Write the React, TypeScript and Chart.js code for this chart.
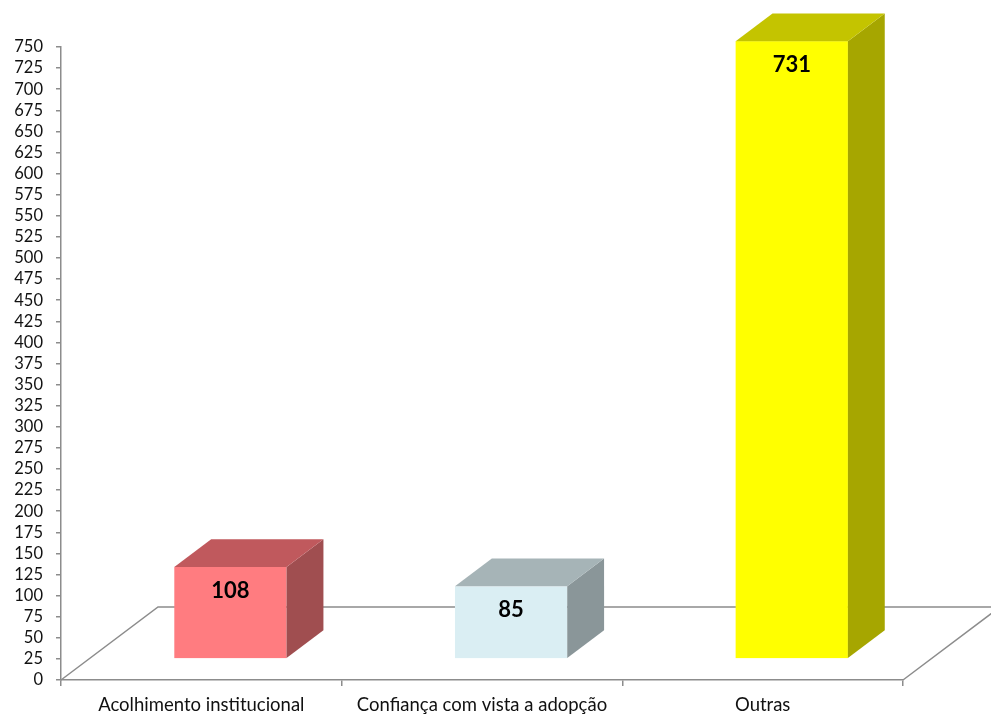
import React, { useEffect, useRef } from "react";
import { Chart, registerables } from "chart.js";

Chart.register(...registerables);

// ---- data ----
const categories = ["Acolhimento institucional", "Confiança com vista a adopção", "Outras"];
const values = [108, 85, 731];
const frontColors = ["#FF7C80", "#DAEEF3", "#FFFF00"];
const topColors = ["#C0595D", "#A6B4B7", "#C4C400"];
const sideColors = ["#A04E50", "#8A9699", "#A6A600"];
const yMin = 0;
const yMax = 750;
const yStep = 25;

// ---- styling / geometry ----
const AXIS_COLOR = "#8C8C8C";
const FONT = "Lato, 'Open Sans', sans-serif";
const FLOOR_DX = 97;
const FLOOR_DY = 73;
const BAR_FRONT = 0.3;
const BAR_DEPTH = 0.38;
const BAR_WIDTH_FRAC = 0.4;

const bars3d = {
  id: "bars3d",
  beforeDatasetsDraw(chart: any) {
    const { ctx, chartArea } = chart;
    const { left, right, bottom } = chartArea;
    ctx.save();
    ctx.strokeStyle = AXIS_COLOR;
    ctx.lineWidth = 1.5;
    ctx.beginPath();
    ctx.moveTo(left, bottom);
    ctx.lineTo(left + FLOOR_DX, bottom - FLOOR_DY);
    ctx.lineTo(right + FLOOR_DX, bottom - FLOOR_DY);
    ctx.lineTo(right, bottom);
    ctx.stroke();
    ctx.restore();
  },
  afterDatasetsDraw(chart: any) {
    const { ctx } = chart;
    const xs = chart.scales.x;
    const ys = chart.scales.y;
    const cat = (xs.right - xs.left) / categories.length;
    const ox = FLOOR_DX * BAR_FRONT;
    const oy = FLOOR_DY * BAR_FRONT;
    const dx = FLOOR_DX * BAR_DEPTH;
    const dy = FLOOR_DY * BAR_DEPTH;
    ctx.save();
    values.forEach((v, i) => {
      const cx = xs.getPixelForValue(i);
      const hw = (cat * BAR_WIDTH_FRAC) / 2;
      const x0 = cx - hw + ox;
      const x1 = cx + hw + ox;
      const yb = ys.getPixelForValue(0) - oy;
      const yt = ys.getPixelForValue(v) - oy;
      // front
      ctx.fillStyle = frontColors[i];
      ctx.fillRect(x0, yt, x1 - x0, yb - yt);
      // side
      ctx.fillStyle = sideColors[i];
      ctx.beginPath();
      ctx.moveTo(x1, yt);
      ctx.lineTo(x1 + dx, yt - dy);
      ctx.lineTo(x1 + dx, yb - dy);
      ctx.lineTo(x1, yb);
      ctx.closePath();
      ctx.fill();
      // top
      ctx.fillStyle = topColors[i];
      ctx.beginPath();
      ctx.moveTo(x0, yt);
      ctx.lineTo(x0 + dx, yt - dy);
      ctx.lineTo(x1 + dx, yt - dy);
      ctx.lineTo(x1, yt);
      ctx.closePath();
      ctx.fill();
      // label
      ctx.fillStyle = "#000000";
      ctx.font = `bold 22px ${FONT}`;
      ctx.textAlign = "center";
      ctx.textBaseline = "middle";
      ctx.fillText(String(v), (x0 + x1) / 2, yt + 24);
    });
    ctx.restore();
  },
};

export default function App() {
  const ref = useRef<HTMLCanvasElement | null>(null);
  useEffect(() => {
    if (!ref.current) return;
    const chart = new Chart(ref.current, {
      type: "bar",
      data: {
        labels: categories,
        datasets: [
          {
            data: values,
            backgroundColor: "rgba(0,0,0,0)",
            borderWidth: 0,
          },
        ],
      },
      options: {
        responsive: false,
        animation: false,
        devicePixelRatio: 1,
        layout: { padding: { top: 47, right: 88, left: 0, bottom: 0 } },
        plugins: { legend: { display: false }, tooltip: { enabled: false } },
        scales: {
          x: {
            grid: {
              display: true,
              drawOnChartArea: false,
              drawTicks: true,
              tickLength: 6,
              color: AXIS_COLOR,
              lineWidth: 1.5,
              offset: true,
            },
            border: { display: true, color: AXIS_COLOR, width: 1.5 },
            ticks: {
              autoSkip: false,
              maxRotation: 0,
              padding: 8,
              color: "#111111",
              font: { family: FONT, size: 18.5 },
            },
            afterFit: (s: any) => {
              s.height = 35;
            },
          },
          y: {
            min: yMin,
            max: yMax,
            grid: {
              display: true,
              drawOnChartArea: false,
              drawTicks: true,
              tickLength: 5,
              color: AXIS_COLOR,
              lineWidth: 1.5,
            },
            border: { display: true, color: AXIS_COLOR, width: 1.5 },
            ticks: {
              stepSize: yStep,
              autoSkip: false,
              maxTicksLimit: 100,
              padding: 13,
              color: "#111111",
              font: { family: FONT, size: 16.5 },
            },
            afterFit: (s: any) => {
              s.width = 61;
            },
          },
        },
      },
      plugins: [bars3d],
    });
    return () => chart.destroy();
  }, []);
  return (
    <div style={{ position: "fixed", left: 0, top: 0, width: 991, height: 715, background: "#fff" }}>
      <canvas ref={ref} width={991} height={715} style={{ width: 991, height: 715, display: "block" }} />
    </div>
  );
}
